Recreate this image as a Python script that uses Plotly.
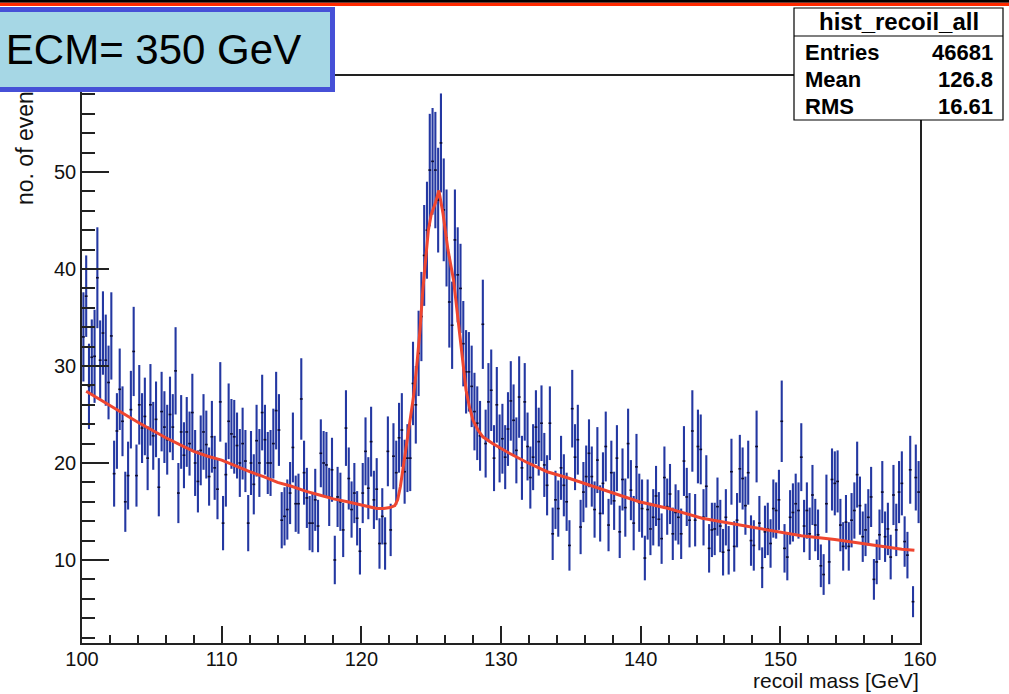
import plotly.graph_objects as go

# ---------------- data ----------------
bin_low = 100.0
bin_width = 0.2

counts = [
    33.0, 37.2, 27.9, 30.9, 31.0, 39.1, 30.6, 33.4, 30.6, 28.3,
    33.1, 18.9, 23.3, 27.6, 24.3, 16.0, 18.7, 25.5, 31.5, 18.7,
    26.0, 23.6, 24.8, 20.5, 26.0, 22.8, 24.5, 17.5, 25.3, 23.7,
    22.4, 25.0, 23.7, 29.5, 16.9, 23.2, 20.8, 23.2, 22.0, 25.2,
    20.0, 18.1, 21.3, 23.2, 21.9, 18.6, 22.7, 19.5, 17.3, 26.3,
    13.8, 18.8, 24.3, 23.0, 22.7, 21.8, 20.0, 22.0, 20.2, 13.8,
    20.0, 17.8, 22.3, 20.0, 25.2, 22.4, 20.0, 20.0, 22.0, 25.4,
    23.4, 14.1, 14.5, 15.2, 16.9, 21.6, 15.8, 15.8, 26.6, 19.0,
    16.4, 13.8, 13.8, 16.2, 13.5, 21.0, 20.0, 19.8, 16.5, 19.3,
    10.0, 16.5, 16.0, 13.1, 23.6, 18.4, 15.2, 16.9, 14.3, 10.9,
    16.9, 21.2, 17.4, 22.2, 16.2, 17.3, 11.7, 14.5, 11.7, 21.2,
    13.1, 20.7, 19.0, 22.6, 23.4, 19.1, 20.5, 20.5, 28.2, 26.0,
    31.3, 35.1, 41.4, 44.0, 50.2, 51.1, 50.2, 47.1, 53.0, 46.1,
    43.2, 36.6, 34.2, 43.0, 39.4, 38.0, 32.3, 29.4, 29.4, 27.9,
    25.3, 24.1, 22.8, 34.3, 22.0, 26.3, 27.5, 20.5, 26.0, 21.5,
    22.5, 20.6, 23.5, 26.4, 24.4, 21.3, 26.8, 19.5, 26.3, 21.7,
    18.5, 20.6, 23.7, 22.2, 24.1, 19.8, 17.7, 24.1, 12.7, 16.2,
    15.3, 19.5, 17.7, 16.0, 11.5, 25.6, 20.6, 22.4, 13.4, 17.0,
    18.6, 21.0, 18.6, 15.2, 20.3, 14.8, 17.9, 21.7, 13.6, 19.0,
    16.1, 20.5, 12.9, 18.3, 15.4, 22.0, 17.2, 13.8, 19.6, 15.9,
    15.3, 10.2, 15.2, 13.2, 14.4, 16.6, 14.2, 12.2, 18.5, 15.5,
    16.8, 12.7, 14.9, 14.4, 12.7, 20.2, 16.5, 14.1, 23.3, 14.1,
    21.7, 21.4, 14.4, 17.6, 11.2, 13.1, 13.2, 15.5, 13.5, 10.8,
    14.4, 11.0, 19.1, 11.4, 14.1, 19.4, 18.4, 15.6, 19.0, 12.0,
    11.5, 21.7, 13.8, 9.2, 12.9, 13.2, 11.7, 15.3, 15.1, 16.2,
    24.3, 11.2, 10.3, 14.4, 14.9, 15.8, 15.1, 20.6, 13.5, 15.1,
    12.7, 16.7, 13.6, 12.6, 9.4, 8.5, 15.8, 9.8, 18.3, 17.9,
    18.1, 13.6, 11.4, 13.9, 11.4, 14.1, 15.1, 18.8, 15.6, 12.4,
    13.1, 14.4, 16.5, 8.0, 9.8, 12.6, 17.0, 12.4, 13.2, 10.3,
    16.7, 13.1, 17.0, 17.9, 11.9, 10.5, 19.3, 5.7, 18.5, 17.0,
]

errors = [
    4.6, 4.2, 4.4, 3.9, 4.8, 5.2, 4.1, 4.3, 4.7, 3.8,
    4.5, 3.4, 3.9, 4.2, 3.6, 3.1, 3.5, 4.0, 4.6, 3.2,
    4.1, 3.6, 4.0, 3.3, 4.2, 3.5, 3.9, 3.0, 4.1, 3.7,
    3.6, 3.9, 3.4, 4.5, 3.1, 3.8, 3.4, 3.6, 3.3, 4.0,
    3.4, 3.2, 3.6, 3.9, 3.5, 3.0, 3.7, 3.3, 3.1, 4.1,
    2.8, 3.3, 3.9, 3.6, 3.8, 3.4, 3.5, 3.7, 3.2, 2.9,
    3.3, 3.1, 3.7, 3.5, 3.9, 3.6, 3.2, 3.4, 3.6, 4.0,
    3.7, 2.9, 3.0, 3.1, 3.2, 3.6, 2.9, 3.1, 4.2, 3.3,
    3.1, 2.8, 3.0, 3.2, 2.7, 3.5, 3.3, 3.4, 3.0, 3.3,
    2.5, 3.1, 3.0, 2.8, 3.9, 3.2, 2.9, 3.1, 2.8, 2.4,
    3.1, 3.5, 3.2, 3.6, 3.0, 3.2, 2.6, 2.9, 2.7, 3.6,
    2.7, 3.4, 3.3, 3.6, 3.8, 3.3, 3.5, 3.4, 4.3, 4.0,
    4.4, 4.6, 5.2, 5.0, 5.8, 5.5, 6.0, 5.4, 5.1, 5.3,
    5.0, 4.7, 4.5, 5.2, 4.9, 4.6, 4.4, 4.3, 4.1, 4.2,
    4.0, 3.8, 3.6, 4.6, 3.5, 4.0, 4.2, 3.4, 3.9, 3.5,
    3.6, 3.3, 3.8, 4.1, 3.7, 3.4, 4.2, 3.3, 4.0, 3.5,
    3.2, 3.4, 3.8, 3.5, 3.9, 3.3, 3.1, 3.8, 2.7, 3.0,
    2.9, 3.3, 3.2, 3.0, 2.6, 4.0, 3.4, 3.6, 2.8, 3.1,
    3.2, 3.5, 3.1, 2.9, 3.4, 2.9, 3.2, 3.6, 2.7, 3.3,
    3.0, 3.4, 2.7, 3.2, 3.0, 3.6, 3.1, 2.8, 3.4, 3.0,
    3.0, 2.3, 3.1, 2.7, 2.9, 3.1, 2.8, 2.6, 3.2, 2.9,
    3.1, 2.7, 2.9, 2.8, 2.6, 3.6, 3.0, 2.8, 4.2, 2.7,
    3.8, 3.6, 2.9, 3.2, 2.5, 2.8, 2.7, 3.0, 2.7, 2.4,
    2.9, 2.5, 3.4, 2.6, 2.8, 3.5, 3.2, 3.0, 3.3, 2.6,
    2.6, 3.7, 2.8, 2.1, 2.7, 2.7, 2.5, 3.0, 2.9, 3.1,
    4.2, 2.5, 2.4, 2.8, 3.0, 3.1, 2.9, 3.5, 2.7, 2.9,
    2.7, 3.1, 2.7, 2.6, 2.2, 2.1, 3.0, 2.3, 3.2, 3.3,
    3.2, 2.7, 2.5, 2.8, 2.5, 2.8, 2.9, 3.4, 3.0, 2.6,
    2.7, 2.9, 3.1, 2.1, 2.3, 2.6, 3.2, 2.6, 2.7, 2.3,
    3.1, 2.7, 3.2, 3.3, 2.6, 2.4, 3.5, 1.6, 3.4, 3.2,
]

fit_x = [100.3, 101, 102, 103, 104, 105, 106, 107, 108, 109, 110, 111, 112, 113,
         114, 115, 116, 117, 118, 119, 120, 120.6, 121.1, 121.6, 122.05, 122.4,
         122.6, 122.8, 123.0, 123.25, 123.5, 123.75, 124.0, 124.2, 124.4, 124.6,
         124.8, 125.0, 125.3, 125.55, 125.85, 126.2, 126.6, 126.9, 127.2, 127.5,
         127.75, 128.0, 128.35, 128.7, 129.4, 130.6, 131.8, 133.3, 134.7, 136.6,
         138.5, 139.9, 142.0, 144.4, 146.7, 149.1, 151.5, 153.9, 156.3, 158.7, 159.6]
fit_y = [27.4, 26.8, 25.9, 25.0, 24.2, 23.4, 22.6, 21.9, 21.2, 20.7, 20.3, 19.7, 19.1, 18.6,
         18.0, 17.6, 17.1, 16.7, 16.3, 16.0, 15.7, 15.5, 15.3, 15.3, 15.4, 15.6,
         16.2, 17.6, 19.6, 21.9, 24.1, 27.0, 30.5, 33.7, 37.8, 41.2,
         44.0, 45.6, 46.8, 48.1, 45.7, 42.0, 38.9, 35.1, 31.0, 27.5,
         25.7, 24.4, 23.4, 22.7, 22.0, 21.0, 20.1, 19.1, 18.5, 17.6,
         16.7, 16.0, 15.3, 14.3, 13.7, 13.1, 12.5, 12.1, 11.6, 11.1, 11.0]

x_ticks = [100, 110, 120, 130, 140, 150, 160]
y_ticks = [10, 20, 30, 40, 50]

stats_title = "hist_recoil_all"
stats_labels = ["Entries", "Mean", "RMS"]
stats_values = ["46681", "126.8", "16.61"]
ecm_label = "ECM= 350 GeV"

centers = [round(bin_low + bin_width * (i + 0.5), 3) for i in range(len(counts))]

# ---------------- geometry helpers (pixel -> paper) ----------------
W, H = 1009, 694
L, R, T, B = 82, 920, 76, 643


def px(p):
    return (p - L) / (R - L)


def py(q):
    return (B - q) / (B - T)


FONT = "Liberation Sans, Arial, Helvetica, sans-serif"

fig = go.Figure()
fig.add_trace(go.Scatter(
    x=centers, y=counts, mode="markers",
    marker=dict(size=1, color="#1a1a55", opacity=0),
    error_y=dict(type="data", array=errors, visible=True, thickness=2.1,
                 width=0, color="#2438a2"),
    error_x=dict(type="constant", value=bin_width / 2, visible=True,
                 thickness=1.6, width=0, color="#0c0c30"),
    showlegend=False, hoverinfo="x+y",
))
fig.add_trace(go.Scatter(
    x=fit_x, y=fit_y, mode="lines",
    line=dict(color="#ef4630", width=3),
    showlegend=False,
))

axis_common = dict(
    showgrid=False, zeroline=False, showline=True, linecolor="#222222",
    linewidth=1.5, mirror=True, ticks="inside", tickcolor="#222222",
    tickwidth=1.5, tickfont=dict(family=FONT, size=20, color="#111111"),
)
fig.update_xaxes(range=[100, 160], tickvals=x_ticks, ticklen=17,
                 ticklabelstandoff=-3,
                 minor=dict(ticks="inside", ticklen=8, dtick=2, tick0=100,
                            tickcolor="#222222", tickwidth=1.5),
                 **axis_common)
fig.update_yaxes(range=[1.44, 59.9], tickvals=y_ticks, ticklen=27,
                 minor=dict(ticks="inside", ticklen=13, dtick=2, tick0=0,
                            tickcolor="#222222", tickwidth=1.5),
                 **axis_common)

shapes = [
    # top bands
    dict(type="rect", xref="paper", yref="paper", x0=px(-5), x1=px(W + 5),
         y0=py(2.7), y1=py(-2), fillcolor="#000000", line=dict(width=0)),
    dict(type="rect", xref="paper", yref="paper", x0=px(-5), x1=px(W + 5),
         y0=py(6), y1=py(2.7), fillcolor="#ff2a00", line=dict(width=0)),
    # stats box
    dict(type="rect", xref="paper", yref="paper", x0=px(794), x1=px(1003),
         y0=py(120), y1=py(8), fillcolor="white", line=dict(color="black", width=1.2)),
    dict(type="line", xref="paper", yref="paper", x0=px(794), x1=px(1003),
         y0=py(36), y1=py(36), line=dict(color="black", width=1.2)),
]

annotations = [
    dict(text="no. of events", textangle=-90, xref="paper", yref="paper",
         x=px(25), y=py(71), xanchor="center", yanchor="top", showarrow=False,
         font=dict(family=FONT, size=23, color="#111111")),
    dict(text="recoil mass [GeV]", xref="paper", yref="paper",
         x=px(921), y=py(680), xanchor="right", yanchor="middle", showarrow=False,
         font=dict(family=FONT, size=21, color="#111111")),
    dict(text=stats_title, xref="paper", yref="paper", x=px(899), y=py(22),
         xanchor="center", yanchor="middle", showarrow=False,
         font=dict(family=FONT, size=24, color="black", weight="bold")),
    dict(text=ecm_label, xref="paper", yref="paper", x=px(153.5), y=py(49.5),
         xanchor="center", yanchor="middle", showarrow=False,
         width=353, height=75, borderpad=0, borderwidth=5,
         bgcolor="#a6d7e5", bordercolor="#4650d7",
         font=dict(family=FONT, size=42, color="black")),
]
row_y = [52, 79, 106]
for lab, val, yy in zip(stats_labels, stats_values, row_y):
    annotations.append(dict(text=lab, xref="paper", yref="paper", x=px(803), y=py(yy),
                            xanchor="left", yanchor="middle", showarrow=False,
                            font=dict(family=FONT, size=22, color="black", weight="bold")))
    annotations.append(dict(text=val, xref="paper", yref="paper", x=px(995), y=py(yy),
                            xanchor="right", yanchor="middle", showarrow=False,
                            font=dict(family=FONT, size=22, color="black", weight="bold")))

fig.update_layout(
    width=W, height=H,
    margin=dict(l=L, r=W - R, t=T, b=H - B, pad=0),
    paper_bgcolor="white", plot_bgcolor="white",
    font=dict(family=FONT),
    shapes=shapes, annotations=annotations,
    showlegend=False,
)

fig.write_html("out.html")
